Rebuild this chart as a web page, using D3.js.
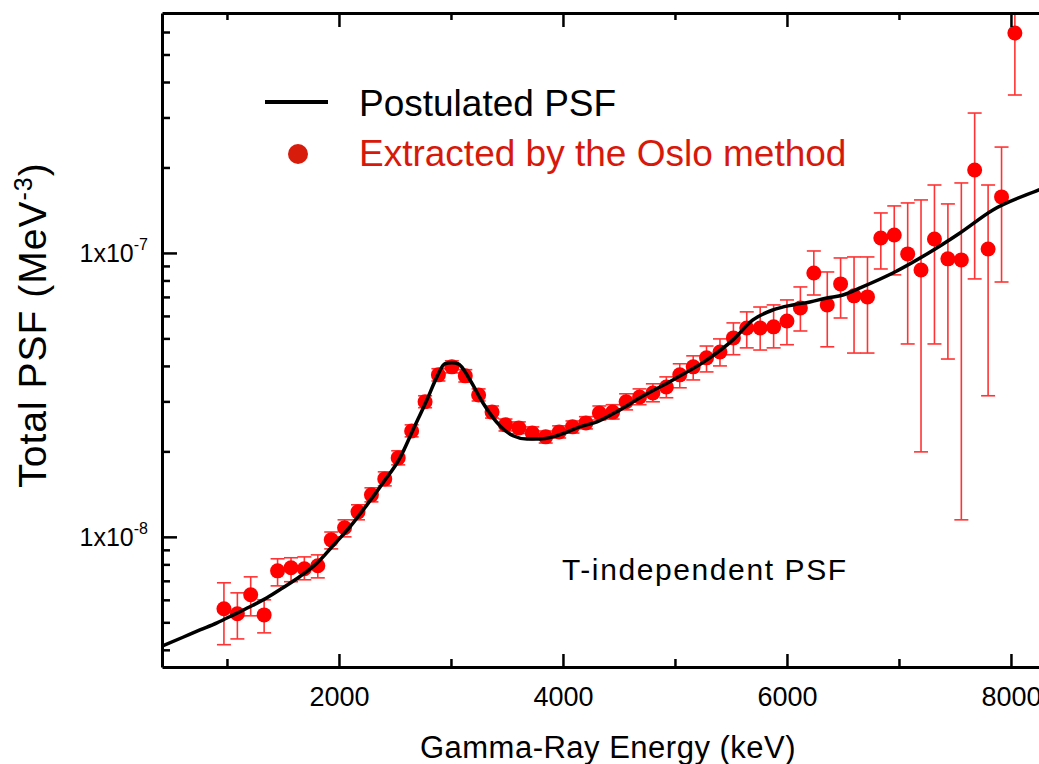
<!DOCTYPE html>
<html>
<head>
<meta charset="utf-8">
<script src="https://cdn.jsdelivr.net/npm/d3@7"></script>
<style>
  body { margin: 0; background: #fff; }
  svg { font-family: "Liberation Sans", Arial, sans-serif; display: block; }
</style>
</head>
<body>
<div id="chart"></div>
<script>
// gamma energies (keV) of the extracted points
var energies = [973, 1093, 1212, 1332, 1452, 1572, 1691, 1811, 1931, 2050,
  2170, 2290, 2409, 2529, 2649, 2769, 2888, 3008, 3128, 3247,
  3367, 3487, 3606, 3726, 3846, 3966, 4085, 4205, 4325, 4444,
  4564, 4684, 4803, 4923, 5043, 5163, 5282, 5402, 5522, 5641,
  5761, 5881, 6000, 6120, 6240, 6360, 6479, 6599, 6719, 6838,
  6958, 7078, 7197, 7317, 7437, 7557, 7676, 7796, 7916, 8035];

// PSF values extracted by the Oslo method (MeV^-3)
var psf = [5.58e-9, 5.36e-9, 6.25e-9, 5.31e-9, 7.59e-9, 7.78e-9, 7.72e-9, 7.91e-9, 9.76e-9, 1.076e-8,
  1.225e-8, 1.406e-8, 1.60e-8, 1.897e-8, 2.36e-8, 2.99e-8, 3.72e-8, 3.97e-8, 3.69e-8, 3.16e-8,
  2.75e-8, 2.48e-8, 2.42e-8, 2.32e-8, 2.25e-8, 2.34e-8, 2.44e-8, 2.52e-8, 2.73e-8, 2.75e-8,
  2.99e-8, 3.11e-8, 3.21e-8, 3.37e-8, 3.72e-8, 3.97e-8, 4.27e-8, 4.48e-8, 5.02e-8, 5.44e-8,
  5.44e-8, 5.49e-8, 5.76e-8, 6.40e-8, 8.50e-8, 6.56e-8, 7.78e-8, 7.06e-8, 7.00e-8, 1.129e-7,
  1.157e-7, 9.92e-8, 8.71e-8, 1.12e-7, 9.53e-8, 9.45e-8, 1.96e-7, 1.033e-7, 1.575e-7, 5.95e-7];

// upper and lower ends of the error bars
var errHigh = [6.89e-9, 6.35e-9, 7.23e-9, 6.00e-9, 8.37e-9, 8.44e-9, 8.50e-9, 8.64e-9, 1.04e-8, 1.148e-8,
  1.297e-8, 1.488e-8, 1.694e-8, 2.01e-8, 2.48e-8, 3.14e-8, 3.91e-8, 4.17e-8, 3.88e-8, 3.32e-8,
  2.89e-8, 2.60e-8, 2.54e-8, 2.44e-8, 2.36e-8, 2.46e-8, 2.56e-8, 2.65e-8, 2.89e-8, 2.92e-8,
  3.19e-8, 3.32e-8, 3.46e-8, 3.66e-8, 4.07e-8, 4.34e-8, 4.70e-8, 4.98e-8, 5.67e-8, 6.20e-8,
  6.45e-8, 6.56e-8, 6.83e-8, 7.59e-8, 1.016e-7, 8.57e-8, 9.60e-8, 9.68e-8, 9.68e-8, 1.383e-7,
  1.464e-7, 1.50e-7, 1.537e-7, 1.735e-7, 1.488e-7, 1.764e-7, 3.11e-7, 1.735e-7, 2.36e-7, 9.0e-7];

var errLow = [4.17e-9, 4.37e-9, 5.27e-9, 4.59e-9, 6.72e-9, 6.95e-9, 7.06e-9, 7.17e-9, 9.07e-9, 1.0e-8,
  1.148e-8, 1.328e-8, 1.512e-8, 1.793e-8, 2.25e-8, 2.85e-8, 3.54e-8, 3.78e-8, 3.51e-8, 3.01e-8,
  2.62e-8, 2.36e-8, 2.31e-8, 2.21e-8, 2.14e-8, 2.23e-8, 2.32e-8, 2.40e-8, 2.58e-8, 2.60e-8,
  2.80e-8, 2.92e-8, 2.99e-8, 3.09e-8, 3.35e-8, 3.57e-8, 3.81e-8, 4.00e-8, 4.38e-8, 4.63e-8,
  4.55e-8, 4.63e-8, 4.75e-8, 5.31e-8, 7.11e-8, 4.67e-8, 5.90e-8, 4.44e-8, 4.44e-8, 8.78e-8,
  8.37e-8, 4.78e-8, 1.992e-8, 4.78e-8, 4.23e-8, 1.148e-8, 8.10e-8, 3.14e-8, 7.90e-8, 3.60e-7];

// postulated PSF curve
var curveE = [420, 607, 759, 911, 1054, 1205, 1357, 1500, 1652, 1804,
  1946, 2098, 2250, 2393, 2545, 2661, 2786, 2875, 2946, 3009,
  3063, 3170, 3286, 3438, 3554, 3679, 3795, 3911, 4036, 4152,
  4304, 4509, 4688, 4982, 5286, 5518, 5696, 5875, 6054, 6205,
  6357, 6500, 6652, 6946, 7250, 7545, 7839, 8250, 8350];
var curveV = [4.12e-9, 4.43e-9, 4.70e-9, 4.98e-9, 5.30e-9, 5.67e-9, 6.10e-9, 6.62e-9, 7.25e-9, 8.08e-9,
  9.30e-9, 1.084e-8, 1.296e-8, 1.549e-8, 1.897e-8, 2.38e-8, 3.04e-8, 3.66e-8, 4.07e-8, 4.10e-8,
  4.07e-8, 3.57e-8, 2.96e-8, 2.46e-8, 2.27e-8, 2.21e-8, 2.21e-8, 2.25e-8, 2.34e-8, 2.44e-8,
  2.54e-8, 2.80e-8, 3.09e-8, 3.57e-8, 4.20e-8, 4.94e-8, 5.81e-8, 6.30e-8, 6.56e-8, 6.72e-8,
  6.94e-8, 7.11e-8, 7.53e-8, 8.50e-8, 9.92e-8, 1.176e-7, 1.417e-7, 1.667e-7, 1.73e-7];

// axis ticks
var xTicks = [1000, 2000, 3000, 4000, 5000, 6000, 7000, 8000];
var xLabelTicks = [2000, 4000, 6000, 8000];
var yTicks = [4e-9, 5e-9, 6e-9, 7e-9, 8e-9, 9e-9, 1e-8, 2e-8, 3e-8, 4e-8, 5e-8, 6e-8, 7e-8, 8e-8, 9e-8,
  1e-7, 2e-7, 3e-7, 4e-7, 5e-7, 6e-7];
var yLabelTicks = [1e-8, 1e-7];
var yLabelExp = ["-8", "-7"];

var W = 1039, H = 764;
var plotLeft = 162, plotTop = 13, plotBottom = 667, plotRight = 1045;

var svg = d3.select("#chart").append("svg")
  .attr("width", W)
  .attr("height", H);

var x = d3.scaleLinear().domain([420, 8304]).range([plotLeft, plotRight]);
var y = d3.scaleLog().domain([3.48e-9, 7.0e-7]).range([plotBottom, plotTop]);

svg.append("clipPath").attr("id", "plotclip")
  .append("rect")
  .attr("x", plotLeft).attr("y", plotTop)
  .attr("width", W - plotLeft).attr("height", plotBottom - plotTop);

var plot = svg.append("g").attr("clip-path", "url(#plotclip)");

// error bars
var bars = plot.append("g")
  .attr("stroke", "#ff3333")
  .attr("stroke-width", 1.6);
energies.forEach(function(e, i) {
  var cx = x(e);
  bars.append("line")
    .attr("x1", cx).attr("x2", cx)
    .attr("y1", y(errLow[i])).attr("y2", y(errHigh[i]));
  bars.append("line")
    .attr("x1", cx - 7).attr("x2", cx + 7)
    .attr("y1", y(errLow[i])).attr("y2", y(errLow[i]));
  bars.append("line")
    .attr("x1", cx - 7).attr("x2", cx + 7)
    .attr("y1", y(errHigh[i])).attr("y2", y(errHigh[i]));
});

// points
plot.append("g").selectAll("circle")
  .data(energies)
  .enter().append("circle")
  .attr("cx", function(d) { return x(d); })
  .attr("cy", function(d, i) { return y(psf[i]); })
  .attr("r", 7.5)
  .attr("fill", "#ff0000");

// postulated curve
var line = d3.line()
  .x(function(d) { return x(d); })
  .y(function(d, i) { return y(curveV[i]); })
  .curve(d3.curveMonotoneX);
plot.append("path")
  .attr("d", line(curveE))
  .attr("fill", "none")
  .attr("stroke", "#000")
  .attr("stroke-width", 3.5);

// axes
var xAxis = d3.axisBottom(x)
  .tickValues(xTicks)
  .tickSizeInner(-13)
  .tickSizeOuter(0)
  .tickPadding(20)
  .tickFormat(function(d) { return xLabelTicks.indexOf(d) >= 0 ? d : ""; });
var gx = svg.append("g")
  .attr("transform", "translate(0," + plotBottom + ")")
  .call(xAxis);
gx.selectAll(".tick line")
  .attr("y2", function(d) { return xLabelTicks.indexOf(d) >= 0 ? -13 : -8; });
gx.selectAll(".tick text")
  .attr("font-size", 27)
  .attr("font-family", "Liberation Sans, Arial, sans-serif")
  .attr("fill", "#000");

var xTop = d3.axisTop(x)
  .tickValues(xTicks)
  .tickSizeInner(-14)
  .tickSizeOuter(0)
  .tickFormat("");
var gt = svg.append("g")
  .attr("transform", "translate(0," + plotTop + ")")
  .call(xTop);
gt.selectAll(".tick line")
  .attr("y2", function(d) { return xLabelTicks.indexOf(d) >= 0 ? 14 : 7; });

var yAxis = d3.axisLeft(y)
  .tickValues(yTicks)
  .tickSizeInner(-15)
  .tickSizeOuter(0)
  .tickFormat("");
var gy = svg.append("g")
  .attr("transform", "translate(" + plotLeft + ",0)")
  .call(yAxis);
gy.selectAll(".tick line")
  .attr("x2", function(d) { return yLabelTicks.indexOf(d) >= 0 ? 15 : 8; });

svg.selectAll(".domain").attr("stroke", "#000").attr("stroke-width", 3);
svg.selectAll(".tick line").attr("stroke", "#000").attr("stroke-width", 2.5);

// y tick labels 1x10^n
yLabelTicks.forEach(function(v, i) {
  var t = svg.append("text")
    .attr("x", 148)
    .attr("y", y(v) + 9)
    .attr("text-anchor", "end")
    .attr("font-size", 25)
    .attr("fill", "#000");
  t.append("tspan").text("1x10");
  t.append("tspan")
    .attr("dy", -12)
    .attr("font-size", 16)
    .text(yLabelExp[i]);
});

// axis titles
var yt = svg.append("text")
  .attr("transform", "translate(46,325) rotate(-90)")
  .attr("text-anchor", "middle")
  .attr("font-size", 39)
  .attr("letter-spacing", 1)
  .attr("fill", "#000");
yt.append("tspan").text("Total PSF (MeV");
yt.append("tspan").attr("dy", -14).attr("font-size", 25).text("-3");
yt.append("tspan").attr("dy", 14).text(")");

svg.append("text")
  .attr("x", 608)
  .attr("y", 758)
  .attr("text-anchor", "middle")
  .attr("font-size", 31)
  .attr("letter-spacing", 0.5)
  .attr("fill", "#000")
  .text("Gamma-Ray Energy (keV)");

svg.append("text")
  .attr("x", 562)
  .attr("y", 580)
  .attr("font-size", 30)
  .attr("letter-spacing", 1.6)
  .attr("fill", "#000")
  .text("T-independent PSF");

// legend
svg.append("line")
  .attr("x1", 265).attr("x2", 328)
  .attr("y1", 102).attr("y2", 102)
  .attr("stroke", "#000")
  .attr("stroke-width", 4);
svg.append("text")
  .attr("x", 359).attr("y", 116)
  .attr("font-size", 37)
  .attr("fill", "#000")
  .text("Postulated PSF");
svg.append("circle")
  .attr("cx", 298).attr("cy", 154)
  .attr("r", 10)
  .attr("fill", "#d81c0c");
svg.append("text")
  .attr("x", 359).attr("y", 166)
  .attr("font-size", 37)
  .attr("fill", "#d7190b")
  .text("Extracted by the Oslo method");
</script>
</body>
</html>
